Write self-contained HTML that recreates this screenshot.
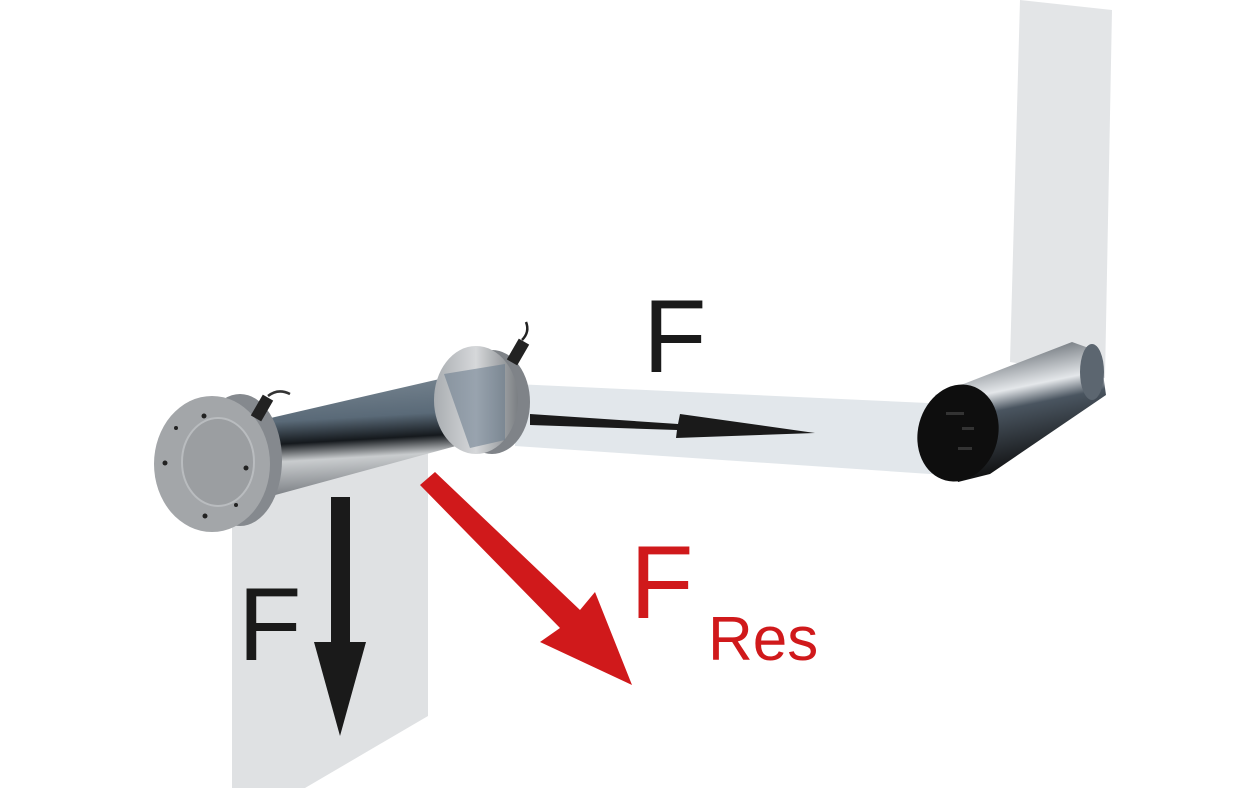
<!DOCTYPE html>
<html><head><meta charset="utf-8"><style>body{margin:0;background:#fff}svg{display:block}</style></head><body>
<svg width="1235" height="788" viewBox="0 0 1235 788" xmlns="http://www.w3.org/2000/svg">
<defs>
<linearGradient id="tube" x1="0" y1="0" x2="0.1" y2="1">
<stop offset="0" stop-color="#7e8b96"/><stop offset="0.4" stop-color="#5a6a78"/><stop offset="0.58" stop-color="#15191d"/><stop offset="0.72" stop-color="#c9ccce"/><stop offset="1" stop-color="#7a7e83"/></linearGradient>
<linearGradient id="flange" x1="0" y1="0" x2="1" y2="0">
<stop offset="0" stop-color="#a9adb1"/><stop offset="0.5" stop-color="#d6d8da"/><stop offset="1" stop-color="#7b7f83"/></linearGradient>
<linearGradient id="r2" x1="0" y1="0" x2="0.25" y2="1">
<stop offset="0" stop-color="#2c343c"/><stop offset="0.42" stop-color="#e4e7ea"/><stop offset="0.55" stop-color="#4a5560"/><stop offset="1" stop-color="#0d0d0d"/></linearGradient>
</defs>
<polygon points="1020,0 1112,10 1105,378 1010,362" fill="#e3e5e7"/>
<polygon points="515,384 950,404 960,476 515,446" fill="#e2e7eb"/>
<!-- roller 2 -->
<polygon points="935,395 1072,342 1100,352 1106,395 990,474 958,482" fill="url(#r2)"/>
<ellipse cx="1092" cy="372" rx="12" ry="28" fill="#5c6670"/>
<ellipse cx="958" cy="433" rx="40" ry="49" transform="rotate(15 958 433)" fill="#0e0e0e"/>
<rect x="946" y="412" width="18" height="3" fill="#333"/><rect x="962" y="427" width="12" height="3" fill="#333"/><rect x="958" y="447" width="14" height="3" fill="#333"/>
<polygon points="232,470 428,452 428,716 305,788 232,788" fill="#dfe1e3"/>
<!-- roller 1 tube -->
<polygon points="262,420 470,372 478,440 268,497" fill="url(#tube)"/>
<!-- right flange -->
<ellipse cx="492" cy="402" rx="38" ry="52" fill="#7f8388"/>
<ellipse cx="476" cy="400" rx="42" ry="54" fill="url(#flange)"/>
<polygon points="444,374 505,364 505,440 470,448" fill="#66788a" opacity="0.55"/>
<rect x="512" y="340" width="12" height="24" fill="#222" transform="rotate(30 518 352)"/>
<path d="M522 340 Q530 332 526 322" stroke="#222" stroke-width="2.5" fill="none"/>
<!-- left flange -->
<ellipse cx="240" cy="460" rx="42" ry="66" fill="#85898e"/>
<ellipse cx="212" cy="464" rx="58" ry="68" fill="#a3a6a9"/>
<ellipse cx="218" cy="462" rx="36" ry="44" fill="#9b9ea1" stroke="#b9bcbf" stroke-width="2"/>
<g fill="#222"><circle cx="204" cy="416" r="2.5"/><circle cx="176" cy="428" r="2"/><circle cx="165" cy="463" r="2.5"/><circle cx="246" cy="468" r="2.5"/><circle cx="236" cy="505" r="2"/><circle cx="205" cy="516" r="2.5"/></g>
<rect x="256" y="396" width="12" height="24" fill="#222" transform="rotate(30 262 408)"/>
<path d="M268 396 Q278 388 290 394" stroke="#333" stroke-width="2.5" fill="none"/>
<!-- black horizontal arrow -->
<polygon points="530,414 678,424 680,414 815,433 676,438 677,430 530,425" fill="#1a1a1a"/>
<rect x="331" y="497" width="19" height="145" fill="#1a1a1a"/>
<polygon points="314,642 366,642 340,736" fill="#1a1a1a"/>
<polygon points="420,485 435,472 580,610 595,592 632,685 540,642 560,628" fill="#d0191b"/>
<text x="643" y="372" font-family="Liberation Sans, sans-serif" font-size="104" fill="#1a1a1a">F</text>
<text x="238" y="660" font-family="Liberation Sans, sans-serif" font-size="104" fill="#1a1a1a">F</text>
<text x="630" y="618" font-family="Liberation Sans, sans-serif" font-size="104" fill="#d0191b">F</text>
<text x="708" y="660" font-family="Liberation Sans, sans-serif" font-size="62" fill="#d0191b">Res</text>
</svg>
</body></html>
